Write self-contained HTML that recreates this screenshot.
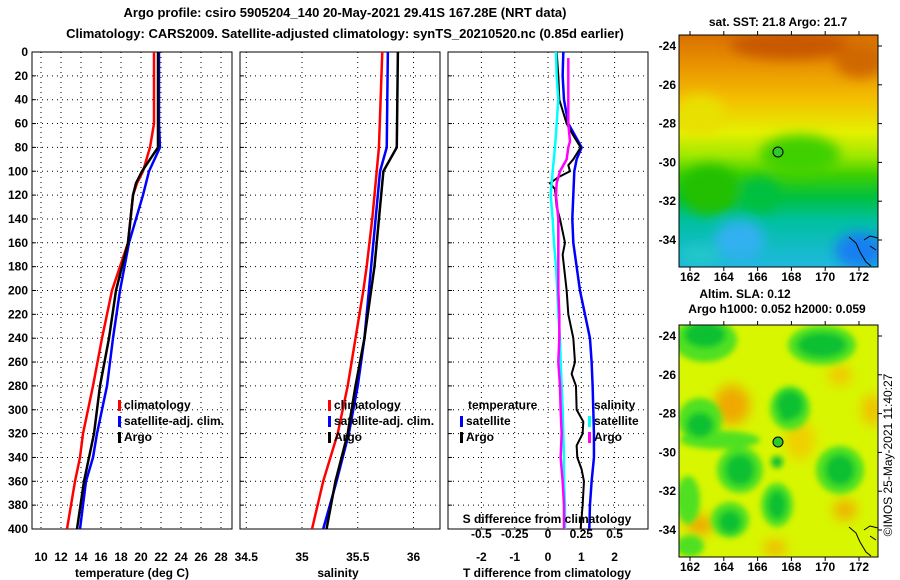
<!DOCTYPE html>
<html><head><meta charset="utf-8"><style>
body{margin:0;background:#fff}
svg{display:block;font-family:"Liberation Sans",sans-serif;font-weight:bold;font-size:12px}
</style></head><body>
<svg id="c" width="900" height="580" viewBox="0 0 900 580" xmlns="http://www.w3.org/2000/svg">
<defs>
<filter id="bl" x="-50%" y="-50%" width="200%" height="200%"><feGaussianBlur stdDeviation="6"/></filter>
<filter id="bl2" x="-50%" y="-50%" width="200%" height="200%"><feGaussianBlur stdDeviation="3"/></filter>
<linearGradient id="sst" x1="0" y1="0" x2="0" y2="1">
<stop offset="0" stop-color="#d87000"/><stop offset="0.12" stop-color="#e89000"/>
<stop offset="0.28" stop-color="#f4c000"/><stop offset="0.42" stop-color="#e4f000"/>
<stop offset="0.52" stop-color="#a0e800"/><stop offset="0.6" stop-color="#40d000"/>
<stop offset="0.7" stop-color="#00c040"/><stop offset="0.8" stop-color="#00c0a0"/>
<stop offset="1" stop-color="#20b8e0"/></linearGradient>
<clipPath id="m1"><rect x="679" y="35" width="199" height="232"/></clipPath>
<clipPath id="m2"><rect x="679" y="325" width="199" height="232"/></clipPath>
<clipPath id="p1"><rect x="32" y="52" width="200" height="477"/></clipPath>
<clipPath id="p2"><rect x="240" y="52" width="200" height="477"/></clipPath>
<clipPath id="p3"><rect x="448" y="52" width="200" height="477"/></clipPath>
</defs>
<text x="345" y="17" text-anchor="middle" font-size="13">Argo profile: csiro 5905204_140 20-May-2021 29.41S 167.28E (NRT data)</text>
<text x="345" y="38" text-anchor="middle" font-size="13">Climatology: CARS2009. Satellite-adjusted climatology: synTS_20210520.nc (0.85d earlier)</text>
<g id="g"></g>
<g>
<g clip-path="url(#m1)">
<rect x="679" y="35" width="199" height="232" fill="url(#sst)"/>
<g filter="url(#bl)">
<ellipse cx="790" cy="45" rx="60" ry="14" fill="#c85800"/>
<ellipse cx="860" cy="60" rx="25" ry="18" fill="#d06800"/>
<ellipse cx="700" cy="115" rx="25" ry="20" fill="#e8e000"/>
<ellipse cx="800" cy="155" rx="40" ry="20" fill="#40d000"/>
<ellipse cx="710" cy="190" rx="30" ry="25" fill="#20c000"/>
<ellipse cx="760" cy="195" rx="20" ry="18" fill="#00c040"/>
<ellipse cx="740" cy="240" rx="25" ry="20" fill="#30b0f0"/>
<ellipse cx="860" cy="250" rx="25" ry="18" fill="#1880f0"/>
<ellipse cx="700" cy="255" rx="20" ry="10" fill="#20c8c8"/>
</g></g>
<rect x="679" y="35" width="199" height="232" fill="none" stroke="#000"/>
<circle cx="778" cy="152" r="5" fill="#30c830" stroke="#000"/>
<path d="M849,237 L856,243 L860,252 L866,262 L871,266 M864,240 L870,236 L878,238 M870,246 L876,250" stroke="#000" fill="none"/>
<text x="778" y="26" text-anchor="middle">sat. SST: 21.8 Argo: 21.7</text>
</g>
<g>
<g clip-path="url(#m2)">
<rect x="679" y="325" width="199" height="232" fill="#d8f600"/>
<g filter="url(#bl)">
<ellipse cx="732" cy="405" rx="18" ry="20" fill="#f0a800"/>
<ellipse cx="700" cy="525" rx="14" ry="10" fill="#f0a800"/>
<ellipse cx="845" cy="510" rx="12" ry="10" fill="#f0b000"/>
<ellipse cx="872" cy="410" rx="10" ry="16" fill="#f0c000"/>
<ellipse cx="840" cy="375" rx="12" ry="10" fill="#f0c800"/>
<ellipse cx="775" cy="548" rx="12" ry="8" fill="#f0b800"/>
<ellipse cx="800" cy="440" rx="15" ry="20" fill="#f0d000"/>
</g>
<g filter="url(#bl2)" fill="#50e020">
<ellipse cx="705" cy="340" rx="32" ry="22"/><ellipse cx="822" cy="345" rx="34" ry="20"/>
<ellipse cx="700" cy="420" rx="22" ry="22"/><ellipse cx="740" cy="470" rx="23" ry="23"/>
<ellipse cx="840" cy="470" rx="24" ry="24"/><ellipse cx="777" cy="505" rx="16" ry="22"/>
<ellipse cx="730" cy="520" rx="19" ry="18"/><ellipse cx="688" cy="500" rx="12" ry="24"/>
<ellipse cx="790" cy="408" rx="20" ry="22"/><ellipse cx="690" cy="546" rx="14" ry="11"/>
<ellipse cx="720" cy="440" rx="40" ry="9"/>
</g>
<g filter="url(#bl2)" fill="#10c030">
<ellipse cx="705" cy="335" rx="20" ry="12"/><ellipse cx="822" cy="345" rx="24" ry="12"/>
<ellipse cx="790" cy="405" rx="13" ry="14"/><ellipse cx="700" cy="425" rx="13" ry="12"/>
<ellipse cx="740" cy="470" rx="14" ry="15"/><ellipse cx="840" cy="470" rx="14" ry="15"/>
<ellipse cx="777" cy="505" rx="9" ry="14"/><ellipse cx="730" cy="522" rx="11" ry="11"/>
<ellipse cx="777" cy="462" rx="6" ry="6"/><ellipse cx="786" cy="416" rx="6" ry="5"/>
</g></g>
<rect x="679" y="325" width="199" height="232" fill="none" stroke="#000"/>
<circle cx="778" cy="442" r="5" fill="#30c830" stroke="#000"/>
<path d="M849,527 L856,533 L860,542 L866,552 L871,556 M864,530 L870,526 L878,528 M870,536 L876,540" stroke="#000" fill="none"/>
<text x="745" y="298" text-anchor="middle">Altim. SLA: 0.12</text>
<text x="777" y="313" text-anchor="middle">Argo h1000: 0.052 h2000: 0.059</text>
</g>
<text transform="translate(892,455) rotate(-90)" text-anchor="middle" font-weight="normal" font-size="12">©IMOS 25-May-2021 11:40:27</text>
</svg>
<script>
// ---- data ----
const depthsT = [0,60,80,100,110,120,160,200,240,280,320,340,360,400];
const tempClim = [21.3,21.3,20.9,20.2,19.6,19.2,18.7,17.1,16.1,15.2,14.2,13.9,13.4,12.6];
const tempSat  = [21.8,21.8,21.9,20.8,20.5,20.2,18.8,17.9,17.2,16.6,15.6,15.2,14.5,13.9];
const tempArgo = [21.7,21.7,21.7,20.1,19.5,19.2,18.7,17.5,16.8,15.9,15.3,14.8,14.3,13.6];
const depthsS = [0,80,100,140,180,200,240,280,320,360,400];
const salClim = [35.72,35.69,35.67,35.63,35.58,35.55,35.48,35.41,35.32,35.19,35.09];
const salSat  = [35.77,35.76,35.70,35.66,35.62,35.60,35.56,35.50,35.42,35.31,35.19];
const salArgo = [35.86,35.85,35.73,35.69,35.65,35.62,35.56,35.48,35.41,35.30,35.22];
const depthsDT = [0,20,40,60,70,80,90,100,120,140,160,180,200,220,240,260,280,300,320,340,360,380,400];
const dTsat = [0.46,0.44,0.48,0.61,0.81,1.01,0.86,0.79,0.76,0.73,0.76,0.86,0.96,1.11,1.26,1.31,1.34,1.36,1.38,1.38,1.31,1.26,1.24];
const depthsDTa = [0,20,40,60,70,80,90,95,100,105,110,115,130,140,160,170,180,200,220,240,260,270,280,300,310,320,330,340,350,360,380,400];
const dTargo = [0.26,0.31,0.34,0.56,0.76,0.98,0.76,0.61,0.66,0.31,0.06,0.21,0.26,0.36,0.51,0.44,0.48,0.56,0.61,0.76,0.81,0.71,0.84,0.86,1.06,1.04,0.86,0.88,1.01,1.08,1.04,0.98];
const depthsDS = [0,20,40,60,80,100,110,120,140,160,180,200,220,240,260,280,300,320,340,360,380,400];
const dSsat = [0.06,0.065,0.0775,0.065,0.0525,0.035,0.0275,0.02,0.035,0.045,0.06,0.07,0.0775,0.09,0.095,0.1025,0.11,0.115,0.12,0.12,0.1275,0.1275];
const depthsDSa = [5,20,40,60,75,80,90,100,110,120,140,160,180,200,220,240,260,280,300,320,340,360,380,400];
const dSargo = [0.1525,0.1525,0.1525,0.1525,0.165,0.1525,0.14,0.09,0.065,0.06,0.0775,0.0775,0.0775,0.0775,0.085,0.085,0.0775,0.09,0.095,0.1025,0.095,0.11,0.12,0.12];
const depthTicks = [0,20,40,60,80,100,120,140,160,180,200,220,240,260,280,300,320,340,360,380,400];
const tTicks = [10,12,14,16,18,20,22,24,26,28];
const sTicks = [34.5,35,35.5,36];
const dtTicks = [-2,-1,0,1,2];
const dsTicks = [-0.5,-0.25,0,0.25,0.5];
const latTicks = [-24,-26,-28,-30,-32,-34];
const lonTicks = [162,164,166,168,170,172];
// ---- scales ----
const yD = d => 52 + d*477/400;
const xT = t => 41 + (t-10)*10;
const xS = s => 302 + (s-35)*111.5;
const xDT = t => 548 + t*33.3;
const xDS = s => 548 + s*133.2;
const yLat1 = l => 46 + (-24-l)*19.4;
const xLon = l => 690 + (l-162)*16.9;
const NS = "http://www.w3.org/2000/svg";
const G = document.getElementById('g');
function mk(tag, at, parent){const e=document.createElementNS(NS,tag);for(const k in at)e.setAttribute(k,at[k]);(parent||G).appendChild(e);return e;}
function txt(x,y,s,anchor,parent){const e=mk('text',{x:x,y:y,'text-anchor':anchor||'middle'},parent);e.textContent=s;return e;}
function panel(name,x0){
  const g=mk('g',{});
  
  
  mk('rect',{x:x0,y:52,width:200,height:477,fill:'none',stroke:'#000'},g);
  depthTicks.forEach(d=>{ if(d>0&&d<400) mk('line',{x1:x0,x2:x0+200,y1:yD(d),y2:yD(d),stroke:'#000','stroke-dasharray':'1 4'},g); mk('line',{x1:x0,x2:x0+4,y1:yD(d),y2:yD(d),stroke:'#000'},g);});
  return g;
}
function series(g,xs,ds,xf,color,w,name,clip){
  const p=mk('polyline',{points:xs.map((v,i)=>xf(v)+','+yD(ds[i])).join(' '),fill:'none',stroke:color,'stroke-width':w,'clip-path':'url(#'+clip+')'},g);
  
  
}
function legend(g,x,y,items){
  items.forEach((it,i)=>{mk('rect',{x:x,y:y+i*16-9,width:3,height:11,fill:it[1]},g);txt(x+6,y+i*16,it[0],'start',g);});
}
const g1=panel('temperature-panel',32);
depthTicks.forEach(d=>txt(28,yD(d)+4,String(d),'end',g1));
tTicks.forEach(t=>{mk('line',{x1:xT(t),x2:xT(t),y1:52,y2:529,stroke:'#000','stroke-dasharray':'1 4'},g1);txt(xT(t),561,String(t),'middle',g1);});
series(g1,tempClim,depthsT,xT,'#f00',2.5,'temp-climatology-line','p1');
series(g1,tempSat,depthsT,xT,'#00f',2.5,'temp-satellite-line','p1');
series(g1,tempArgo,depthsT,xT,'#000',2.5,'temp-argo-line','p1');
legend(g1,118,409,[['climatology','#f00'],['satellite-adj. clim.','#00f'],['Argo','#000']]);
txt(132,577,'temperature (deg C)','middle',g1);
const g2=panel('salinity-panel',240);
sTicks.forEach(s=>{mk('line',{x1:xS(s),x2:xS(s),y1:52,y2:529,stroke:'#000','stroke-dasharray':'1 4'},g2);txt(xS(s),561,String(s),'middle',g2);});
series(g2,salClim,depthsS,xS,'#f00',2.5,'sal-climatology-line','p2');
series(g2,salSat,depthsS,xS,'#00f',2.5,'sal-satellite-line','p2');
series(g2,salArgo,depthsS,xS,'#000',2.5,'sal-argo-line','p2');
legend(g2,328,409,[['climatology','#f00'],['satellite-adj. clim.','#00f'],['Argo','#000']]);
txt(338,577,'salinity','middle',g2);
const g3=panel('difference-panel',448);
dtTicks.forEach(t=>{mk('line',{x1:xDT(t),x2:xDT(t),y1:52,y2:529,stroke:'#000','stroke-dasharray':'1 4'},g3);txt(xDT(t),561,String(t),'middle',g3);});
series(g3,dTsat,depthsDT,xDT,'#00f',2.5,'dt-satellite-line','p3');
series(g3,dTargo,depthsDTa,xDT,'#000',2,'dt-argo-line','p3');
series(g3,dSsat,depthsDS,xDS,'#0ff',2.5,'ds-satellite-line','p3');
series(g3,dSargo,depthsDSa,xDS,'#f0f',2.5,'ds-argo-line','p3');
txt(468,409,'temperature','start',g3);
legend(g3,460,425,[['satellite','#00f'],['Argo','#000']]);
txt(594,409,'salinity','start',g3);
legend(g3,588,425,[['satellite','#0ff'],['Argo','#f0f']]);
txt(547,523,'S difference from climatology','middle',g3);
dsTicks.forEach(s=>txt(xDS(s),538,String(s),'middle',g3));
txt(547,577,'T difference from climatology','middle',g3);
[[35,yLat1,'sst-map-axes'],[325,l=>yLat1(l)+290,'sla-map-axes']].forEach(m=>{
  const g=mk('g',{});
  
  
  latTicks.forEach(l=>{const y=m[1](l);txt(676,y+4,String(l),'end',g);mk('line',{x1:878,x2:874,y1:y,y2:y,stroke:'#000'},g);mk('line',{x1:878,x2:882,y1:y,y2:y,stroke:'#000'},g);});
  lonTicks.forEach(l=>{const x=xLon(l);txt(x,m[0]+246,String(l),'middle',g);mk('line',{x1:x,x2:x,y1:m[0],y2:m[0]-4,stroke:'#000'},g);mk('line',{x1:x,x2:x,y1:m[0]+232,y2:m[0]+236,stroke:'#000'},g);});
});
</script>
</body></html>
